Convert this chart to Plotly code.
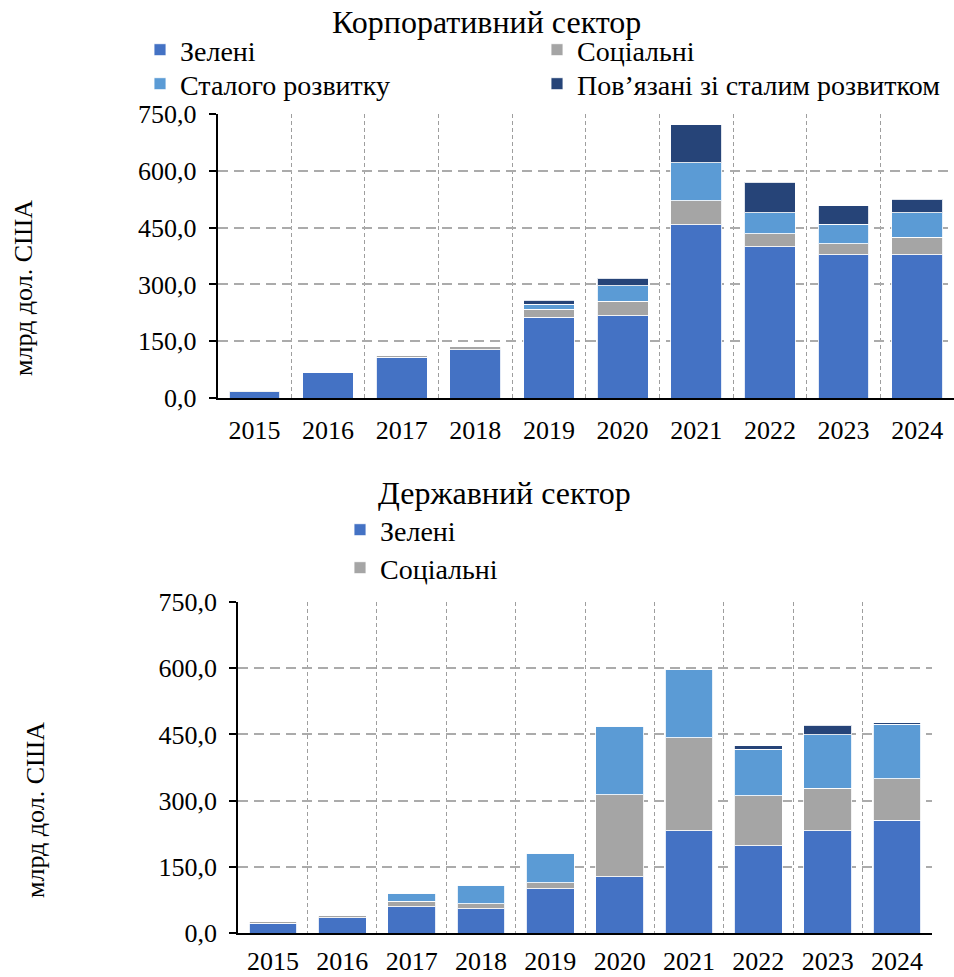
import plotly.graph_objects as go

# ---------------- data ----------------
years = ["2015", "2016", "2017", "2018", "2019", "2020", "2021", "2022", "2023", "2024"]

series_names = ["Зелені", "Соціальні", "Сталого розвитку", "Пов’язані зі сталим розвитком"]

corp_green = [16, 68, 107, 127, 213, 217, 458, 399, 378, 378]
corp_social = [4, 0, 6, 10, 22, 39, 63, 35, 30, 47]
corp_sust = [0, 0, 0, 0, 13, 40, 100, 55, 51, 64]
corp_linked = [0, 0, 0, 0, 10, 20, 101, 81, 49, 36]

gov_green = [22, 34, 60, 55, 100, 127, 232, 198, 232, 256]
gov_social = [3, 5, 12, 11, 14, 186, 210, 113, 96, 93]
gov_sust = [0, 0, 18, 42, 67, 155, 156, 105, 121, 124]
gov_linked = [0, 0, 0, 0, 0, 0, 0, 8, 22, 3]

y_tickvals = [0, 150, 300, 450, 600, 750]
y_ticktext = ["0,0", "150,0", "300,0", "450,0", "600,0", "750,0"]

title_top = "Корпоративний сектор"
title_bottom = "Державний сектор"
y_title = "млрд дол. США"

colors = ["#4472C4", "#A5A5A5", "#5B9BD5", "#264478"]

# ---------------- layout helpers ----------------
W, H = 954, 977
FONT = "Liberation Serif, Times New Roman, serif"
FS_TICK = 26
FS_LEG = 28
FS_TITLE = 32
FS_YT = 26


def px_x(x):
    return x / W


def px_y(y):
    return 1 - y / H


fig = go.Figure()

corp = [corp_green, corp_social, corp_sust, corp_linked]
gov = [gov_green, gov_social, gov_sust, gov_linked]
top_legends = ["legend", "legend2", "legend3", "legend4"]

for i, (name, vals) in enumerate(zip(series_names, corp)):
    fig.add_trace(go.Bar(
        x=years, y=vals, name=name, marker_color=colors[i],
        marker_line=dict(color="rgba(255,255,255,0.85)", width=1),
        xaxis="x", yaxis="y", legend=top_legends[i], showlegend=True,
    ))

bottom_legends = ["legend5", "legend6", None, None]
for i, (name, vals) in enumerate(zip(series_names, gov)):
    kw = dict(legend=bottom_legends[i], showlegend=True) if bottom_legends[i] else dict(showlegend=False)
    fig.add_trace(go.Bar(
        x=years, y=vals, name=name, marker_color=colors[i],
        marker_line=dict(color="rgba(255,255,255,0.85)", width=1),
        xaxis="x2", yaxis="y2", **kw,
    ))

xcommon = dict(
    type="category", tickson="boundaries", showgrid=True,
    gridcolor="#9E9E9E", gridwidth=1, griddash="4px,3px",
    showline=True, linecolor="black", linewidth=2, ticks="",
    tickfont=dict(family=FONT, size=FS_TICK, color="black"),
    fixedrange=True, automargin=False,
)
ycommon = dict(
    range=[0, 750], tickvals=y_tickvals, ticktext=y_ticktext,
    showgrid=True, gridcolor="#ABABAB", gridwidth=2, griddash="10px,6px",
    showline=True, linecolor="black", linewidth=2, zeroline=False,
    ticks="outside", ticklen=7, tickwidth=2, tickcolor="black",
    tickfont=dict(family=FONT, size=FS_TICK, color="black"),
    ticklabelstandoff=7, fixedrange=True, automargin=False,
)

# top plot: x 217.6..955, y 114..398 ; bottom plot: x 238..932, y 602..933
fig.update_layout(
    width=W, height=H, autosize=False,
    margin=dict(l=0, r=0, t=0, b=0, pad=0, autoexpand=False),
    paper_bgcolor="white", plot_bgcolor="white",
    barmode="stack", bargap=0.31,
    font=dict(family=FONT, size=FS_TICK, color="black"),
    xaxis=dict(domain=[px_x(217.6), 1.0], anchor="y", ticklabelstandoff=8, **xcommon),
    yaxis=dict(domain=[px_y(398), px_y(114)], anchor="x", **ycommon),
    xaxis2=dict(domain=[px_x(238.3), px_x(931.7)], anchor="y2", ticklabelstandoff=4, **xcommon),
    yaxis2=dict(domain=[px_y(933), px_y(602)], anchor="x2", **ycommon),
)


# legends: one item each, positioned like the reference
def leg(text_x, yc):
    return dict(
        x=px_x(text_x - 40), xanchor="left", y=px_y(yc), yanchor="middle",
        bgcolor="rgba(0,0,0,0)", borderwidth=0,
        font=dict(family=FONT, size=FS_LEG, color="black"),
        orientation="v", itemclick=False, itemdoubleclick=False,
    )


fig.update_layout(
    legend=leg(180, 50),
    legend2=leg(577, 50),
    legend3=leg(180, 84),
    legend4=leg(577, 84),
    legend5=leg(380, 530),
    legend6=leg(380, 568),
)

annotations = [
    dict(text=title_top, x=px_x(487), y=px_y(22), xref="paper", yref="paper",
         showarrow=False, xanchor="center", yanchor="middle",
         font=dict(family=FONT, size=FS_TITLE, color="black")),
    dict(text=title_bottom, x=px_x(504), y=px_y(493), xref="paper", yref="paper",
         showarrow=False, xanchor="center", yanchor="middle",
         font=dict(family=FONT, size=FS_TITLE, color="black")),
    dict(text=y_title, x=px_x(24), y=px_y(288), xref="paper", yref="paper",
         showarrow=False, xanchor="center", yanchor="middle", textangle=-90,
         font=dict(family=FONT, size=FS_YT, color="black")),
    dict(text=y_title, x=px_x(35), y=px_y(810), xref="paper", yref="paper",
         showarrow=False, xanchor="center", yanchor="middle", textangle=-90,
         font=dict(family=FONT, size=FS_YT, color="black")),
]
fig.update_layout(annotations=annotations)

fig.write_html("out.html")
